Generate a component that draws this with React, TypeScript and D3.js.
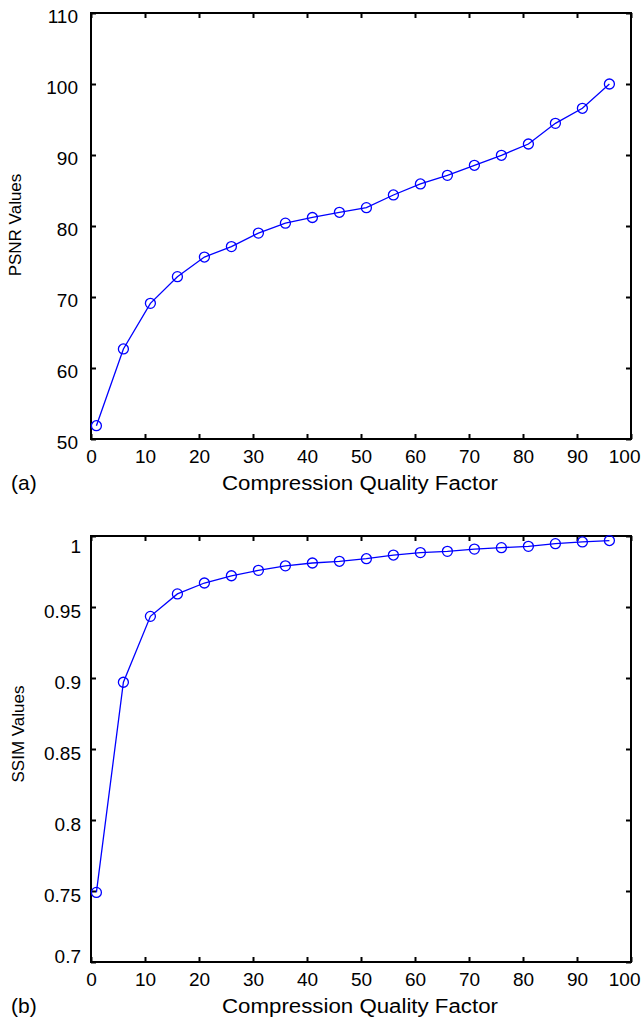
import * as d3 from "d3";
import React, { useEffect, useRef } from "react";

// compression quality factor (x) for both panels
const qualityFactor = [1, 6, 11, 16, 21, 26, 31, 36, 41, 46, 51, 56, 61, 66, 71, 76, 81, 86, 91, 96];

// panel (a)
const psnrValues = [
  51.87, 62.68, 69.11, 72.86, 75.63, 77.1, 79.0, 80.4, 81.2, 81.93, 82.58, 84.37, 85.92, 87.14,
  88.55, 89.96, 91.55, 94.46, 96.58, 100.0,
];
const psnrTicks = [50, 60, 70, 80, 90, 100, 110];

// panel (b)
const ssimValues = [
  0.749, 0.897, 0.9434, 0.9592, 0.9669, 0.972, 0.9758, 0.979, 0.981, 0.9822, 0.984, 0.9866, 0.9883,
  0.9892, 0.9908, 0.9918, 0.9927, 0.9946, 0.9958, 0.9968,
];
const ssimTicks = [0.7, 0.75, 0.8, 0.85, 0.9, 0.95, 1];

const xTicks = [0, 10, 20, 30, 40, 50, 60, 70, 80, 90, 100];

const WIDTH = 642;
const HEIGHT = 1020;
const FONT = "'Liberation Sans', Arial, Helvetica, sans-serif";
const TICK_FS = 19;

export default function App() {
  const svgRef = useRef<SVGSVGElement>(null);

  useEffect(() => {
    const svg = d3.select(svgRef.current);
    svg.selectAll("*").remove();

    const panels = [
      {
        values: psnrValues, ticks: psnrTicks, domain: [50, 110], top: 13,
        label: "PSNR Values", labelX: 21, labelY: 225, tag: "(a)", pad: 13,
        fmt: d3.format("d"),
        // small vertical nudge of the y tick labels
        shift: (_d: number) => 2.5,
      },
      {
        values: ssimValues, ticks: ssimTicks, domain: [0.7, 1], top: 536,
        label: "SSIM Values", labelX: 24, labelY: 734, tag: "(b)", pad: 10,
        fmt: (d: number) => `${d}`,
        shift: (d: number) => (d === 1 ? 10 : d === 0.7 ? -6 : 4),
      },
    ];

    const left = 91;
    const right = 631;
    const innerHeight = 426;

    panels.forEach((p) => {
      const bottom = p.top + innerHeight;
      const xScale = d3.scaleLinear().domain([0, 100]).range([left, right]);
      const yScale = d3.scaleLinear().domain(p.domain).range([bottom, p.top]);

      const g = svg.append("g");

      const styleAxis = (sel: any) => {
        sel.select(".domain").remove();
        sel.selectAll("line").attr("stroke", "#000").attr("stroke-width", 2);
        sel.selectAll("text").attr("fill", "#000").attr("font-size", TICK_FS).attr("font-family", FONT);
      };

      // bottom axis, ticks inward
      const xAxisG = g
        .append("g")
        .attr("transform", `translate(0, ${bottom})`)
        .call(d3.axisBottom(xScale).tickValues(xTicks).tickSizeInner(-5).tickSizeOuter(0).tickPadding(11))
        .call(styleAxis);
      // keep "100" inside the page
      xAxisG
        .selectAll<SVGTextElement, number>("text")
        .filter((d) => d === 100)
        .attr("text-anchor", "end")
        .attr("x", 9);

      // mirrored ticks on top
      g.append("g")
        .attr("transform", `translate(0, ${p.top})`)
        .call(d3.axisTop(xScale).tickValues(xTicks).tickSizeInner(-5).tickSizeOuter(0).tickFormat(() => ""))
        .call(styleAxis);

      // left axis
      const yAxisG = g
        .append("g")
        .attr("transform", `translate(${left}, 0)`)
        .call(d3.axisLeft(yScale).tickValues(p.ticks).tickSizeInner(-5).tickSizeOuter(0).tickPadding(p.pad).tickFormat(p.fmt as any))
        .call(styleAxis);
      yAxisG
        .selectAll<SVGTextElement, number>("text")
        .attr("dy", null)
        .attr("y", (d) => p.shift(d) + TICK_FS * 0.358);

      // mirrored ticks on right
      g.append("g")
        .attr("transform", `translate(${right}, 0)`)
        .call(d3.axisRight(yScale).tickValues(p.ticks).tickSizeInner(-5).tickSizeOuter(0).tickFormat(() => ""))
        .call(styleAxis);

      // frame
      g.append("rect")
        .attr("x", left)
        .attr("y", p.top)
        .attr("width", right - left)
        .attr("height", innerHeight)
        .attr("fill", "none")
        .attr("stroke", "#000")
        .attr("stroke-width", 2);

      // data
      const data = qualityFactor.map((q, i) => ({ q, v: p.values[i] }));
      const line = d3
        .line<{ q: number; v: number }>()
        .x((d) => xScale(d.q))
        .y((d) => yScale(d.v));

      g.append("path")
        .attr("d", line(data))
        .attr("fill", "none")
        .attr("stroke", "#0000ff")
        .attr("stroke-width", 1.3);

      g.selectAll("circle.pt")
        .data(data)
        .join("circle")
        .attr("class", "pt")
        .attr("cx", (d) => xScale(d.q))
        .attr("cy", (d) => yScale(d.v))
        .attr("r", 5)
        .attr("fill", "none")
        .attr("stroke", "#0000ff")
        .attr("stroke-width", 1.3);

      // labels
      g.append("text")
        .attr("x", 360)
        .attr("y", bottom + 51)
        .attr("text-anchor", "middle")
        .attr("font-size", 20)
        .attr("textLength", 276)
        .attr("lengthAdjust", "spacingAndGlyphs")
        .attr("font-family", FONT)
        .text("Compression Quality Factor");

      g.append("text")
        .attr("x", 11)
        .attr("y", bottom + 51)
        .attr("font-size", 21)
        .attr("font-family", FONT)
        .text(p.tag);

      g.append("text")
        .attr("transform", `translate(${p.labelX}, ${p.labelY}) rotate(-90)`)
        .attr("text-anchor", "middle")
        .attr("font-size", 17)
        .attr("font-family", FONT)
        .text(p.label);
    });
  }, []);

  return (
    <svg
      ref={svgRef}
      width={WIDTH}
      height={HEIGHT}
      style={{ position: "absolute", left: 0, top: 0, background: "#fff" }}
    ></svg>
  );
}
